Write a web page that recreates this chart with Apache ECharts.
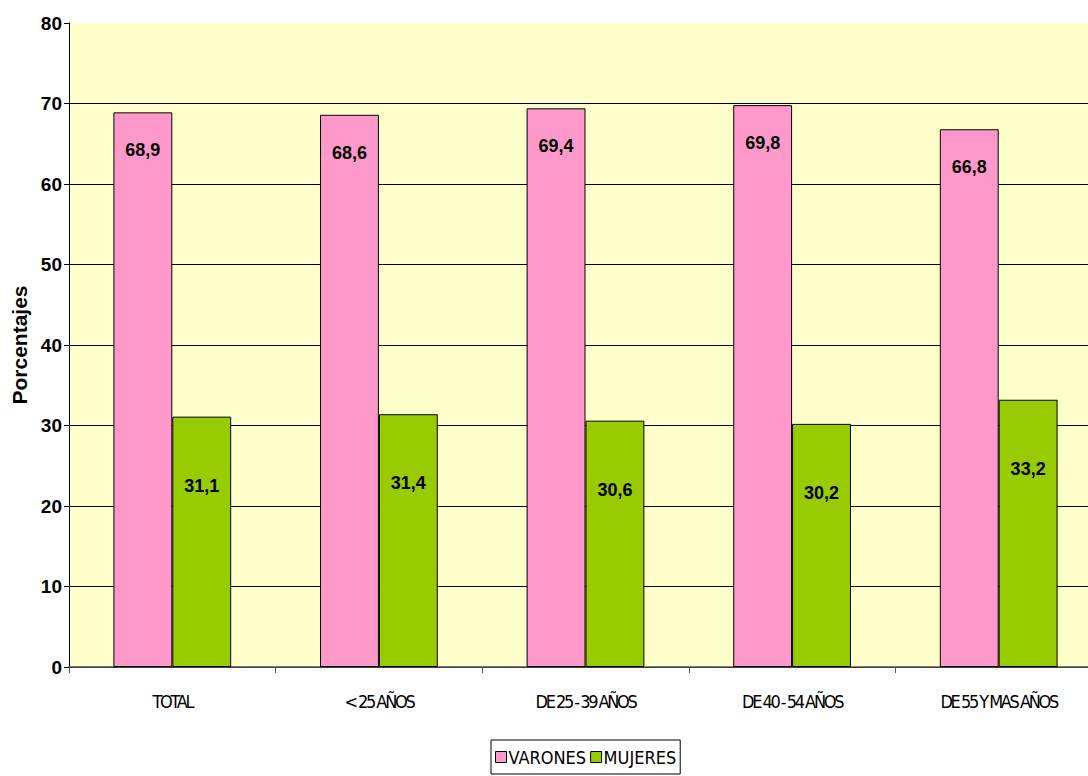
<!DOCTYPE html>
<html><head><meta charset="utf-8">
<script src="https://cdn.jsdelivr.net/npm/echarts@6/dist/echarts.min.js"></script>
<style>
html,body{margin:0;padding:0;background:#fff}#c{width:1088px;height:776px}
#c text[style*="AxisCond"], #c text[font-family*="AxisCond"] { letter-spacing: -2.3px; word-spacing: -0.5px; }
</style>
</head><body><div id="c"></div>
<script>
const categories = ['TOTAL', '< 25 AÑOS', 'DE 25 - 39 AÑOS', 'DE 40 - 54 AÑOS', 'DE 55 Y MAS AÑOS'];
const varones = [68.9, 68.6, 69.4, 69.8, 66.8];
const mujeres = [31.1, 31.4, 30.6, 30.2, 33.2];
const yTicks = [0, 10, 20, 30, 40, 50, 60, 70, 80];

const chart = echarts.init(document.getElementById('c'), null, { renderer: 'svg' });
const fmt = p => String(p.value.toFixed(1)).replace('.', ',');
const splitColors = yTicks.map((v, i) => i === yTicks.length - 1 ? 'rgba(0,0,0,0)' : '#000');
const narrow = "'Liberation Sans Narrow', 'DejaVu Sans Condensed', 'Liberation Sans'";
const axisNarrow = "AxisCond, 'Liberation Sans Narrow', 'DejaVu Sans Condensed', 'Liberation Sans'";
chart.setOption({
  animation: false,
  backgroundColor: '#fff',
  grid: { left: 69, top: 23, width: 1033, bottom: 109, show: true, backgroundColor: '#FFFFCC', borderWidth: 0, outerBoundsMode: 'none', containLabel: false },
  legend: {
    bottom: 2, left: 491,
    data: ['VARONES', 'MUJERES'],
    icon: 'rect', itemWidth: 11, itemHeight: 11, itemGap: 4,
    borderColor: '#000', borderWidth: 1, padding: [8, 4, 8, 4],
    itemStyle: { borderColor: '#000', borderWidth: 1 },
    textStyle: { fontFamily: narrow, fontStyle: 'condensed', fontSize: 18, color: '#000', padding: [0, 0, 0, -3] }
  },
  xAxis: {
    type: 'category', data: categories,
    axisLine: { lineStyle: { color: '#555', width: 1.5 } },
    axisTick: { show: true, length: 6, lineStyle: { color: '#555' } },
    axisLabel: { margin: 25, fontFamily: axisNarrow, fontStyle: 'condensed', fontSize: 18, color: '#000' }
  },
  yAxis: {
    type: 'value', min: 0, max: 80, interval: 10,
    name: 'Porcentajes', nameLocation: 'middle', nameGap: 36, nameRotate: 90,
    nameTextStyle: { fontFamily: 'Liberation Sans, Arial', fontWeight: 'bold', fontSize: 21, color: '#000' },
    axisLine: { show: true, lineStyle: { color: '#000', width: 1 } },
    axisTick: { show: true, length: 5, lineStyle: { color: '#000' } },
    axisLabel: { margin: 7, fontFamily: 'Liberation Sans, Arial', fontWeight: 'bold', fontSize: 19, color: '#000' },
    splitLine: { show: true, lineStyle: { color: splitColors, width: 1 } }
  },
  series: [
    {
      name: 'VARONES', type: 'bar', data: varones, barGap: '0%', barCategoryGap: '43%',
      itemStyle: { color: '#FF99CC', borderColor: '#000', borderWidth: 1 },
      label: { show: true, position: 'insideTop', distance: 29, formatter: fmt,
        fontFamily: 'Liberation Sans, Arial', fontWeight: 'bold', fontSize: 18, color: '#000' }
    },
    {
      name: 'MUJERES', type: 'bar', data: mujeres,
      itemStyle: { color: '#99CC00', borderColor: '#000', borderWidth: 1 },
      label: { show: true, position: 'insideTop', distance: 60, formatter: fmt,
        fontFamily: 'Liberation Sans, Arial', fontWeight: 'bold', fontSize: 18, color: '#000' }
    }
  ]
});
</script></body></html>
